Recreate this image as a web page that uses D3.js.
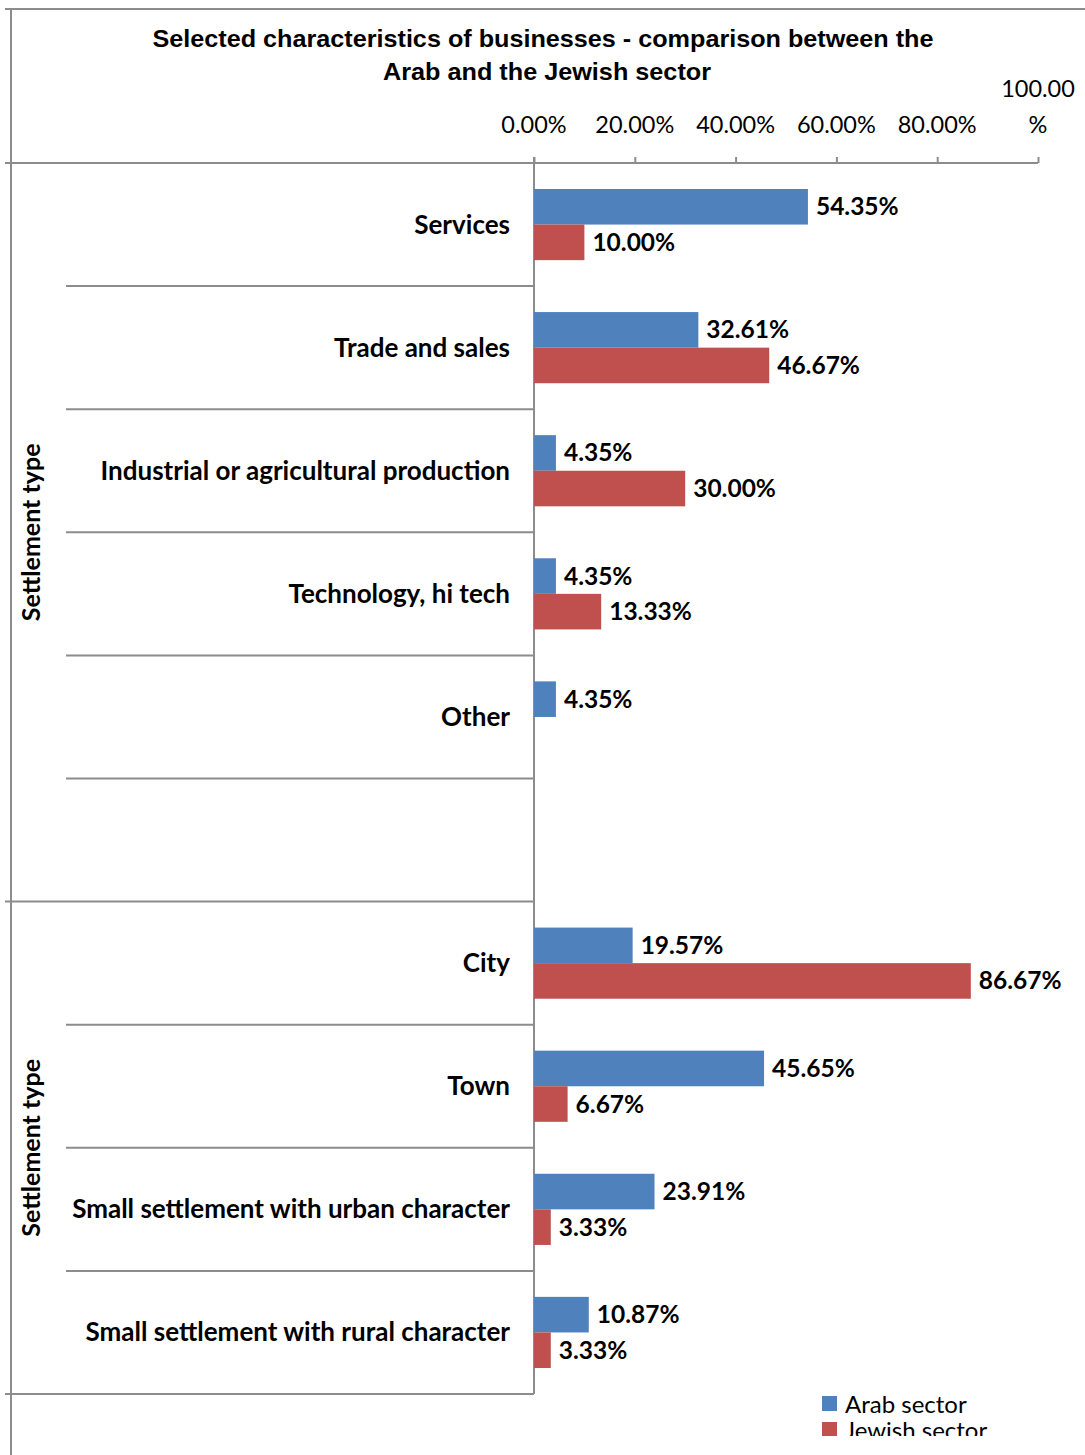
<!DOCTYPE html>
<html><head><meta charset="utf-8">
<script src="https://cdn.jsdelivr.net/npm/d3@7"></script>
<style>
html,body{margin:0;padding:0;background:#fff;}
svg{display:block;}
</style></head>
<body>
<svg id="chart" width="1085" height="1455"></svg>
<script>
const titleLines = ["Selected characteristics of businesses - comparison between the", "Arab and the Jewish sector"];
const categories = ["Services", "Trade and sales", "Industrial or agricultural production", "Technology, hi tech", "Other", "", "City", "Town", "Small settlement with urban character", "Small settlement with rural character"];
const arabValues = [54.35, 32.61, 4.35, 4.35, 4.35, null, 19.57, 45.65, 23.91, 10.87];
const jewishValues = [10.00, 46.67, 30.00, 13.33, null, null, 86.67, 6.67, 3.33, 3.33];
const groupLabels = ["Settlement type", "Settlement type"];
const groupSizes = [6, 4];
const tickValues = [0, 20, 40, 60, 80, 100];
const tickLabels = ["0.00%", "20.00%", "40.00%", "60.00%", "80.00%", "100.00 %"];
const seriesNames = ["Arab sector", "Jewish sector"];
const seriesColors = ["#4F81BD", "#C0504D"];

const svg = d3.select("#chart");
const gridColor = "#8c8c8c";
const fontMain = "Lato, 'Open Sans', sans-serif";

const x = d3.scaleLinear().domain([0, 100]).range([534, 1038]);
const idx = categories.map((d, i) => i);
const y = d3.scaleBand().domain(idx).range([163, 1394]).padding(0);
const yInner = d3.scaleBand().domain([0, 1]).range([0, y.bandwidth()]).paddingInner(0).paddingOuter(0.73);

// outer frame
svg.append("line").attr("x1", 5).attr("x2", 1085).attr("y1", 9).attr("y2", 9).attr("stroke", gridColor).attr("stroke-width", 2);
svg.append("line").attr("x1", 11).attr("x2", 11).attr("y1", 9).attr("y2", 1455).attr("stroke", gridColor).attr("stroke-width", 2);

// title
const title = svg.append("g");
title.append("text").attr("x", 543).attr("y", 47).attr("text-anchor", "middle")
  .attr("font-family", "'Liberation Sans Narrow', 'Liberation Sans', Arial, sans-serif").attr("font-weight", "bold").attr("font-size", 24)
  .attr("textLength", 781).attr("lengthAdjust", "spacingAndGlyphs").text(titleLines[0]);
title.append("text").attr("x", 547).attr("y", 80).attr("text-anchor", "middle")
  .attr("font-family", "'Liberation Sans Narrow', 'Liberation Sans', Arial, sans-serif").attr("font-weight", "bold").attr("font-size", 24)
  .attr("textLength", 328).attr("lengthAdjust", "spacingAndGlyphs").text(titleLines[1]);

// top axis
const axisG = svg.append("g").attr("transform", "translate(0,163)");
const axis = d3.axisTop(x).tickValues(tickValues).tickSize(6).tickFormat("");
axisG.call(axis);
axisG.select(".domain").attr("d", "M5,0H1038").attr("stroke", gridColor).attr("stroke-width", 2);
axisG.selectAll(".tick line").attr("stroke", gridColor).attr("stroke-width", 2);
tickValues.forEach((v, i) => {
  const parts = tickLabels[i].split(" ");
  const t = svg.append("text").attr("text-anchor", "middle").attr("font-family", fontMain).attr("font-size", 23.5).attr("fill", "#000");
  if (parts.length > 1) {
    t.append("tspan").attr("x", x(v)).attr("y", 97).text(parts[0]);
    t.append("tspan").attr("x", x(v)).attr("y", 133).text(parts[1]);
  } else {
    t.attr("x", x(v)).attr("y", 133).text(parts[0]);
  }
});

// vertical axis line
svg.append("line").attr("x1", x(0)).attr("x2", x(0)).attr("y1", 157).attr("y2", 1394).attr("stroke", gridColor).attr("stroke-width", 2);

// separators and group labels
let start = 0;
groupSizes.forEach((size, gi) => {
  for (let k = 1; k < size; k++) {
    const yy = y(start + k);
    svg.append("line").attr("x1", 66).attr("x2", x(0)).attr("y1", yy).attr("y2", yy).attr("stroke", gridColor).attr("stroke-width", 2);
  }
  const yEnd = y(start + size - 1) + y.bandwidth();
  svg.append("line").attr("x1", 5).attr("x2", x(0)).attr("y1", yEnd).attr("y2", yEnd).attr("stroke", gridColor).attr("stroke-width", 2);
  const yMid = (y(start) + yEnd) / 2;
  svg.append("text").attr("transform", `translate(40,${yMid}) rotate(-90)`).attr("text-anchor", "middle")
    .attr("font-family", fontMain).attr("font-weight", "bold").attr("font-size", 25).text(groupLabels[gi]);
  start += size;
});

// category labels
svg.append("g").selectAll("text").data(idx).join("text")
  .attr("x", 510).attr("y", i => y(i) + y.bandwidth() / 2 + 9).attr("text-anchor", "end")
  .attr("font-family", fontMain).attr("font-weight", "bold").attr("font-size", 26).attr("fill", "#000")
  .text(i => categories[i]);

// bars
const series = [arabValues, jewishValues];
series.forEach((vals, s) => {
  const data = idx.filter(i => vals[i] != null);
  const g = svg.append("g");
  g.selectAll("rect").data(data).join("rect")
    .attr("x", x(0)).attr("y", i => y(i) + yInner(s)).attr("width", i => x(vals[i]) - x(0)).attr("height", yInner.bandwidth())
    .attr("fill", seriesColors[s]);
  g.selectAll("text").data(data).join("text")
    .attr("x", i => x(vals[i]) + 8).attr("y", i => y(i) + yInner(s) + yInner.bandwidth() / 2 + 8.5)
    .attr("font-family", fontMain).attr("font-weight", "bold").attr("font-size", 24.5).attr("fill", "#000")
    .text(i => vals[i].toFixed(2) + "%");
});

// legend (clipped as in the reference)
const defs = svg.append("defs");
defs.append("clipPath").attr("id", "legclip").append("rect").attr("x", 780).attr("y", 1380).attr("width", 305).attr("height", 56);
const leg = svg.append("g").attr("clip-path", "url(#legclip)");
seriesNames.forEach((n, i) => {
  leg.append("rect").attr("x", 822).attr("y", 1396 + i * 26).attr("width", 15).attr("height", 15).attr("fill", seriesColors[i]);
  leg.append("text").attr("x", 845).attr("y", 1413 + i * 26).attr("font-family", fontMain).attr("font-size", 24).attr("fill", "#000").text(n);
});
</script>
</body></html>
